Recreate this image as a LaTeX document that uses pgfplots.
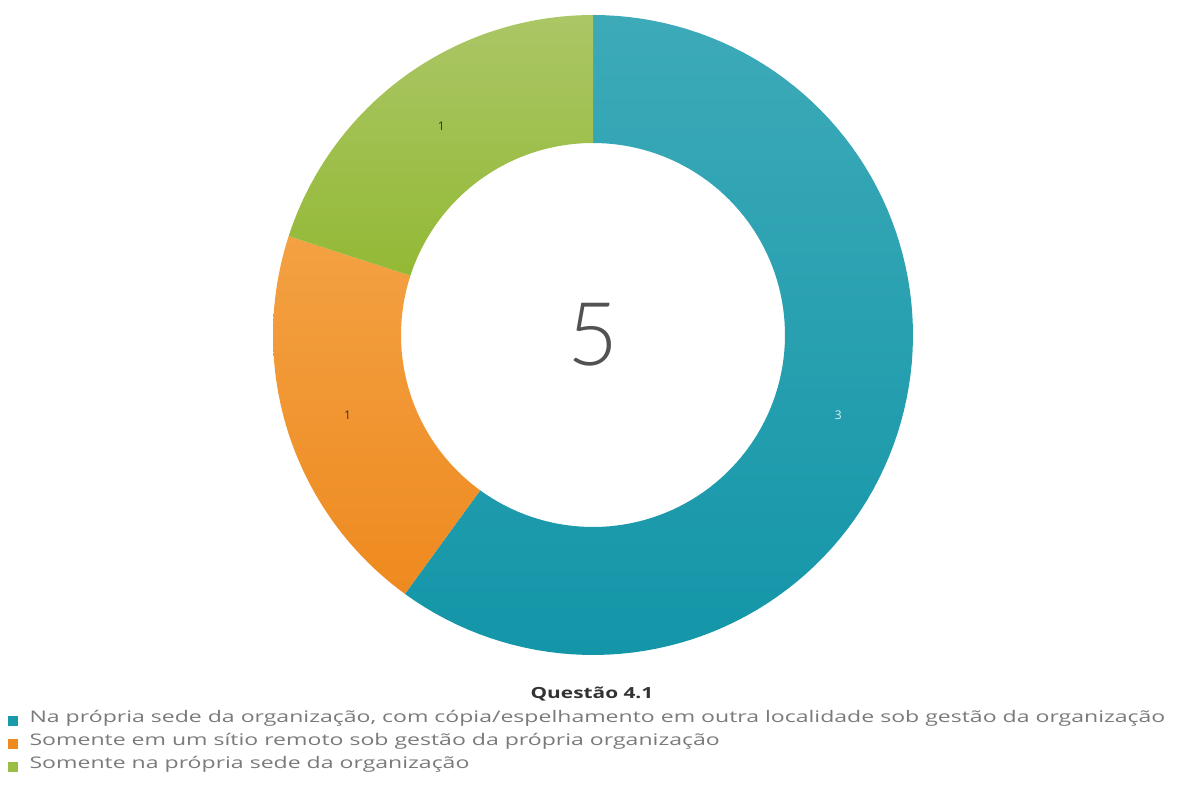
\documentclass[border=0pt]{standalone}
\usepackage{pgfplots}
\pgfplotsset{compat=1.18}
\usepackage{pgfplotstable}
\usepackage{fontspec}
\setmainfont{Open Sans}
\newfontfamily\legfont{Open Sans}[FakeStretch=1.44]
\newfontfamily\titfont{Open Sans}[FakeStretch=1.36]
\newfontfamily\bigfont{Lato}[UprightFont={* Light}]
\definecolor{tealA}{HTML}{3DAAB8}
\definecolor{tealB}{HTML}{1396A8}
\definecolor{orA}{HTML}{F3A143}
\definecolor{orB}{HTML}{EE8A1F}
\definecolor{grA}{HTML}{ABC666}
\definecolor{grB}{HTML}{93B935}
\definecolor{legtxt}{HTML}{7A7A7A}
\definecolor{lab}{HTML}{333333}

\pgfplotstableread{
label value
A 3
B 1
C 1
}\donut

\pgfplotstablegetelem{0}{value}\of\donut \let\vA\pgfplotsretval
\pgfplotstablegetelem{1}{value}\of\donut \let\vB\pgfplotsretval
\pgfplotstablegetelem{2}{value}\of\donut \let\vC\pgfplotsretval
\pgfmathsetmacro\tot{\vA+\vB+\vC}
\pgfmathsetmacro\sA{90}
\pgfmathsetmacro\eA{\sA-360*\vA/\tot}
\pgfmathsetmacro\eB{\eA-360*\vB/\tot}
\pgfmathsetmacro\eC{\eB-360*\vC/\tot}
\pgfmathsetmacro\mA{(\sA+\eA)/2}
\pgfmathsetmacro\mB{(\eA+\eB)/2}
\pgfmathsetmacro\mC{(\eB+\eC)/2}
\def\cx{593}
\def\cy{454}
\def\Ro{320}
\def\Ri{192}
\def\Rl{258}
% radius and angle along the closed outline of an annular sector, t in [0,2.2]
\pgfmathdeclarefunction{rr}{1}{\pgfmathparse{(#1<1.1 ? \Ro : \Ri)}}
\pgfmathdeclarefunction{aa}{3}{\pgfmathparse{(#1<1.1 ? #2+(#3-#2)*min(#1,1) : #3-(#3-#2)*max(#1-1.2,0))}}

\begin{document}
\begin{tikzpicture}
\begin{axis}[
  scale only axis,
  width=882.75pt, height=591.75pt,
  xmin=0, xmax=1177, ymin=0, ymax=789,
  hide axis, clip=false,
  legend style={draw=none, fill=none, at={(axis cs:8,80)}, anchor=north west,
    inner sep=0pt, row sep=0pt, column sep=8.5pt,
    font=\legfont\fontsize{12pt}{14pt}\selectfont,
    text=legtxt, nodes={inner sep=0pt, text height=10pt, text depth=7.25pt}},
  legend cell align=left,
  legend image code/.code={\fill[#1, draw=none] (0pt,-3.75pt) rectangle (7.5pt,3.75pt);},
]
\path (axis cs:0,0) rectangle (axis cs:1177,789);
% slices
\addplot[forget plot, draw=none, shading=axis, top color=tealA, bottom color=tealB,
  variable=\t, domain=0:2.2, samples=221]
  ({\cx + rr(\t)*cos(aa(\t,\sA,\eA))}, {\cy + rr(\t)*sin(aa(\t,\sA,\eA))});
\addplot[forget plot, draw=none, shading=axis, top color=orA, bottom color=orB,
  variable=\t, domain=0:2.2, samples=111]
  ({\cx + rr(\t)*cos(aa(\t,\eA,\eB))}, {\cy + rr(\t)*sin(aa(\t,\eA,\eB))});
\addplot[forget plot, draw=none, shading=axis, top color=grA, bottom color=grB,
  variable=\t, domain=0:2.2, samples=111]
  ({\cx + rr(\t)*cos(aa(\t,\eB,\eC))}, {\cy + rr(\t)*sin(aa(\t,\eB,\eC))});
% slice labels
\node[font=\fontsize{9pt}{10pt}\selectfont, text=white!85!tealA] at (axis cs:{\cx+\Rl*cos(\mA)},{\cy+\Rl*sin(\mA)}) {\vA};
\node[font=\fontsize{9pt}{10pt}\selectfont, text=lab] at (axis cs:{\cx+\Rl*cos(\mB)},{\cy+\Rl*sin(\mB)}) {\vB};
\node[font=\fontsize{9pt}{10pt}\selectfont, text=lab] at (axis cs:{\cx+\Rl*cos(\mC)},{\cy+\Rl*sin(\mC)}) {\vC};
% center total
\node[font=\bigfont\fontsize{66pt}{70pt}\selectfont, text=black!68] at (axis cs:\cx,\cy) {5};
% legend title
\node[font=\titfont\bfseries\fontsize{11.5pt}{13pt}\selectfont, text=lab] at (axis cs:592,95) {Questão 4.1};
\addlegendimage{draw=none, fill=tealB!85!tealA}
\addlegendentry{Na própria sede da organização, com cópia/espelhamento em outra localidade sob gestão da organização}
\addlegendimage{draw=none, fill=orB}
\addlegendentry{Somente em um sítio remoto sob gestão da própria organização}
\addlegendimage{draw=none, fill=grB!70!grA}
\addlegendentry{Somente na própria sede da organização}
\end{axis}
\end{tikzpicture}
\end{document}
